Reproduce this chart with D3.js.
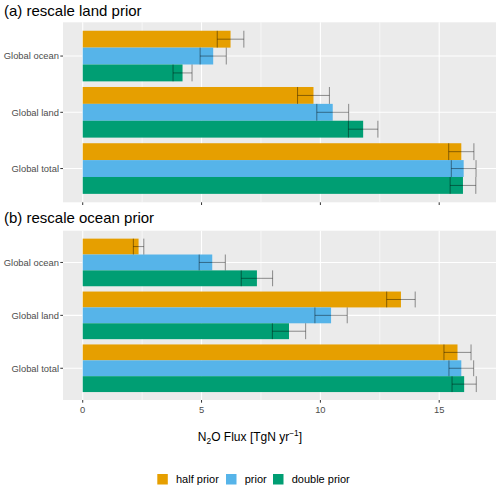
<!DOCTYPE html>
<html><head><meta charset="utf-8">
<script src="https://cdn.jsdelivr.net/npm/d3@7"></script>
<style>body{margin:0;background:#fff;} text{font-family:"Liberation Sans",Arial,Helvetica,sans-serif;}</style>
</head><body><svg id="c" width="500" height="490"></svg>
<script>
const categories = ["Global ocean", "Global land", "Global total"];
const series = ["half prior", "prior", "double prior"];
const colors = ["#E69F00", "#56B4E9", "#009E73"];
const xTicks = [0, 5, 10, 15];
const xMinor = [2.5, 7.5, 12.5];

// (a) rescale land prior
const landHalf = [6.22, 9.71, 15.93];
const landHalfErr = [0.56, 0.67, 0.53];
const landPrior = [5.49, 10.52, 16.03];
const landPriorErr = [0.55, 0.67, 0.52];
const landDouble = [4.20, 11.80, 16.00];
const landDoubleErr = [0.40, 0.62, 0.54];

// (b) rescale ocean prior
const oceanHalf = [2.35, 13.39, 15.77];
const oceanHalfErr = [0.22, 0.60, 0.57];
const oceanPrior = [5.45, 10.45, 15.93];
const oceanPriorErr = [0.55, 0.68, 0.52];
const oceanDouble = [7.33, 8.68, 16.05];
const oceanDoubleErr = [0.66, 0.70, 0.51];

const panels = [
  {title: "(a) rescale land prior", top: 22.3, bottom: 202.3, titleY: 16, showLabels: false,
   vals: [landHalf, landPrior, landDouble], errs: [landHalfErr, landPriorErr, landDoubleErr]},
  {title: "(b) rescale ocean prior", top: 230.7, bottom: 400, titleY: 222.5, showLabels: true,
   vals: [oceanHalf, oceanPrior, oceanDouble], errs: [oceanHalfErr, oceanPriorErr, oceanDoubleErr]}
];

const svg = d3.select("#c");
const left = 63, right = 496;
const x = d3.scaleLinear().domain([-0.83, 17.39]).range([left, right]);

panels.forEach(p => {
  const g = svg.append("g");
  const y = d3.scalePoint().domain(categories).range([p.top, p.bottom]).padding(0.6);
  const step = y.step();
  const inner = d3.scaleBand().domain(series).range([-0.45 * step, 0.45 * step]);

  g.append("rect").attr("x", left).attr("y", p.top).attr("width", right - left)
    .attr("height", p.bottom - p.top).attr("fill", "#EBEBEB");
  g.selectAll(".minor").data(xMinor).enter().append("line")
    .attr("x1", d => x(d)).attr("x2", d => x(d)).attr("y1", p.top).attr("y2", p.bottom)
    .attr("stroke", "#fff").attr("stroke-width", 0.55);
  g.selectAll(".major").data(xTicks).enter().append("line")
    .attr("x1", d => x(d)).attr("x2", d => x(d)).attr("y1", p.top).attr("y2", p.bottom)
    .attr("stroke", "#fff").attr("stroke-width", 1.07);
  g.selectAll(".hmajor").data(categories).enter().append("line")
    .attr("x1", left).attr("x2", right).attr("y1", d => y(d)).attr("y2", d => y(d))
    .attr("stroke", "#fff").attr("stroke-width", 1.07);

  series.forEach((s, si) => {
    g.selectAll(".bar" + si).data(categories).enter().append("rect")
      .attr("x", x(0))
      .attr("y", (c) => y(c) + inner(s))
      .attr("width", (c, i) => x(p.vals[si][i]) - x(0))
      .attr("height", inner.bandwidth())
      .attr("fill", colors[si]);
  });
  series.forEach((s, si) => {
    categories.forEach((c, i) => {
      const v = p.vals[si][i], e = p.errs[si][i];
      const y0 = y(c) + inner(s), y1 = y0 + inner.bandwidth(), ym = (y0 + y1) / 2;
      const eg = g.append("g").attr("stroke", "#000").attr("stroke-opacity", 0.42).attr("stroke-width", 1);
      eg.append("line").attr("x1", x(v - e)).attr("x2", x(v + e)).attr("y1", ym).attr("y2", ym);
      eg.append("line").attr("x1", x(v - e)).attr("x2", x(v - e)).attr("y1", y0).attr("y2", y1);
      eg.append("line").attr("x1", x(v + e)).attr("x2", x(v + e)).attr("y1", y0).attr("y2", y1);
    });
  });

  categories.forEach(c => {
    g.append("line").attr("x1", left - 2.7).attr("x2", left).attr("y1", y(c)).attr("y2", y(c))
      .attr("stroke", "#333").attr("stroke-width", 1);
    g.append("text").attr("x", left - 4).attr("y", y(c)).attr("dy", "0.35em")
      .attr("text-anchor", "end").attr("font-size", 9.4).attr("fill", "#4D4D4D").text(c);
  });
  xTicks.forEach(t => {
    g.append("line").attr("x1", x(t)).attr("x2", x(t)).attr("y1", p.bottom).attr("y2", p.bottom + 2.7)
      .attr("stroke", "#333").attr("stroke-width", 1);
    if (p.showLabels) {
      g.append("text").attr("x", x(t)).attr("y", p.bottom + 12.5)
        .attr("text-anchor", "middle").attr("font-size", 9.4).attr("fill", "#4D4D4D").text(t);
    }
  });
  g.append("text").attr("x", 4).attr("y", p.titleY).attr("font-size", 15).attr("fill", "#000").text(p.title);
});

// axis title
const at = svg.append("text").attr("x", 250).attr("y", 441)
  .attr("text-anchor", "middle").attr("font-size", 12).attr("fill", "#000");
at.append("tspan").text("N");
at.append("tspan").attr("font-size", 8.4).attr("dy", 3).text("2");
at.append("tspan").attr("dy", -3).text("O Flux [TgN yr");
at.append("tspan").attr("font-size", 8.4).attr("dy", -5).text("\u22121");
at.append("tspan").attr("dy", 5).text("]");

// legend
const legendX = [157.3, 226, 273];
series.forEach((s, i) => {
  svg.append("rect").attr("x", legendX[i]).attr("y", 474).attr("width", 10.5).attr("height", 10.5)
    .attr("fill", colors[i]);
  svg.append("text").attr("x", legendX[i] + 18.7).attr("y", 483.3).attr("font-size", 11)
    .attr("fill", "#000").text(s);
});
</script></body></html>
